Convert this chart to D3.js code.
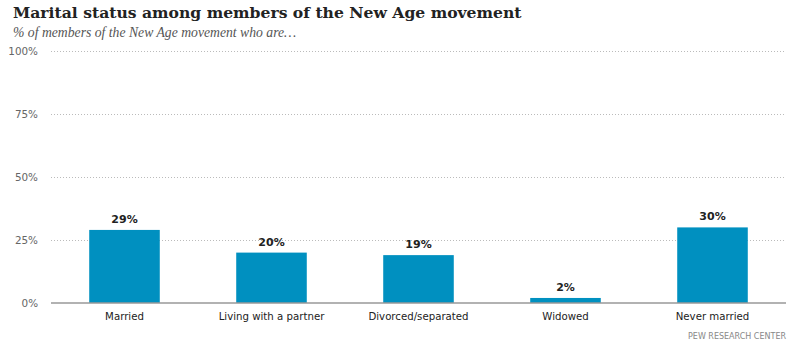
<!DOCTYPE html>
<html>
<head>
<meta charset="utf-8">
<script src="https://cdn.jsdelivr.net/npm/d3@7"></script>
<style>
  html, body { margin: 0; padding: 0; background: #fff; }
  svg { display: block; }
</style>
</head>
<body>
<svg id="chart" width="800" height="344"></svg>
<script>
// Marital status of New Age movement members
const categories = ["Married", "Living with a partner", "Divorced/separated", "Widowed", "Never married"];
const values = [29, 20, 19, 2, 30];
const tickValues = [0, 25, 50, 75, 100];

const svg = d3.select("#chart");
const plotLeft = 51, plotRight = 786, plotTop = 51, plotBottom = 303;

svg.append("text")
  .attr("x", 13).attr("y", 18)
  .attr("font-family", "'DejaVu Serif', serif")
  .attr("font-weight", "bold")
  .attr("font-size", 15.6)
  .attr("fill", "#222")
  .text("Marital status among members of the New Age movement");

svg.append("text")
  .attr("x", 13).attr("y", 37)
  .attr("font-family", "'Liberation Serif', serif")
  .attr("font-style", "italic")
  .attr("font-size", 13.7)
  .attr("fill", "#555")
  .text("% of members of the New Age movement who are…");

const x = d3.scaleBand()
  .domain(categories)
  .range([plotLeft, plotRight])
  .paddingInner(0.52)
  .paddingOuter(0.26);

const y = d3.scaleLinear().domain([0, 100]).range([plotBottom, plotTop]);

// gridlines + y tick labels
const yAxis = d3.axisLeft(y)
  .tickValues(tickValues)
  .tickFormat(d => d + "%")
  .tickSize(-(plotRight - plotLeft))
  .tickPadding(13);

const gy = svg.append("g")
  .attr("transform", `translate(${plotLeft},0)`)
  .call(yAxis);
gy.select(".domain").remove();
gy.selectAll(".tick line")
  .attr("stroke", "#bbb")
  .attr("stroke-dasharray", "1,2")
  .attr("stroke-width", 1);
gy.selectAll(".tick text")
  .attr("font-family", "'DejaVu Sans', Verdana, sans-serif")
  .attr("font-size", 10.4)
  .attr("fill", "#666");
gy.selectAll(".tick").filter(d => d === 0).select("line").remove();

// bars
svg.append("g").selectAll("rect")
  .data(values)
  .join("rect")
  .attr("x", (d, i) => x(categories[i]))
  .attr("y", d => y(d))
  .attr("width", x.bandwidth())
  .attr("height", d => y(0) - y(d))
  .attr("fill", "#0090c0");

// value labels
svg.append("g").selectAll("text")
  .data(values)
  .join("text")
  .attr("x", (d, i) => x(categories[i]) + x.bandwidth() / 2)
  .attr("y", d => y(d) - 7)
  .attr("text-anchor", "middle")
  .attr("font-family", "'DejaVu Sans', Verdana, sans-serif")
  .attr("font-weight", "bold")
  .attr("font-size", 11)
  .attr("fill", "#222")
  .text(d => d + "%");

// x axis baseline and category labels
const xAxis = d3.axisBottom(x).tickSize(0).tickPadding(10);
const gx = svg.append("g")
  .attr("transform", `translate(0,${plotBottom})`)
  .call(xAxis);
gx.select(".domain")
  .attr("stroke", "#999")
  .attr("stroke-width", 1.5)
  .attr("d", `M${plotLeft},0H${plotRight}`);
gx.selectAll(".tick text")
  .attr("font-family", "'DejaVu Sans', Verdana, sans-serif")
  .attr("font-size", 10.2)
  .attr("fill", "#222");

svg.append("text")
  .attr("x", plotRight).attr("y", 339)
  .attr("text-anchor", "end")
  .attr("font-family", "'DejaVu Sans', Verdana, sans-serif")
  .attr("font-size", 8)
  .attr("fill", "#888")
  .text("PEW RESEARCH CENTER");
</script>
</body>
</html>
